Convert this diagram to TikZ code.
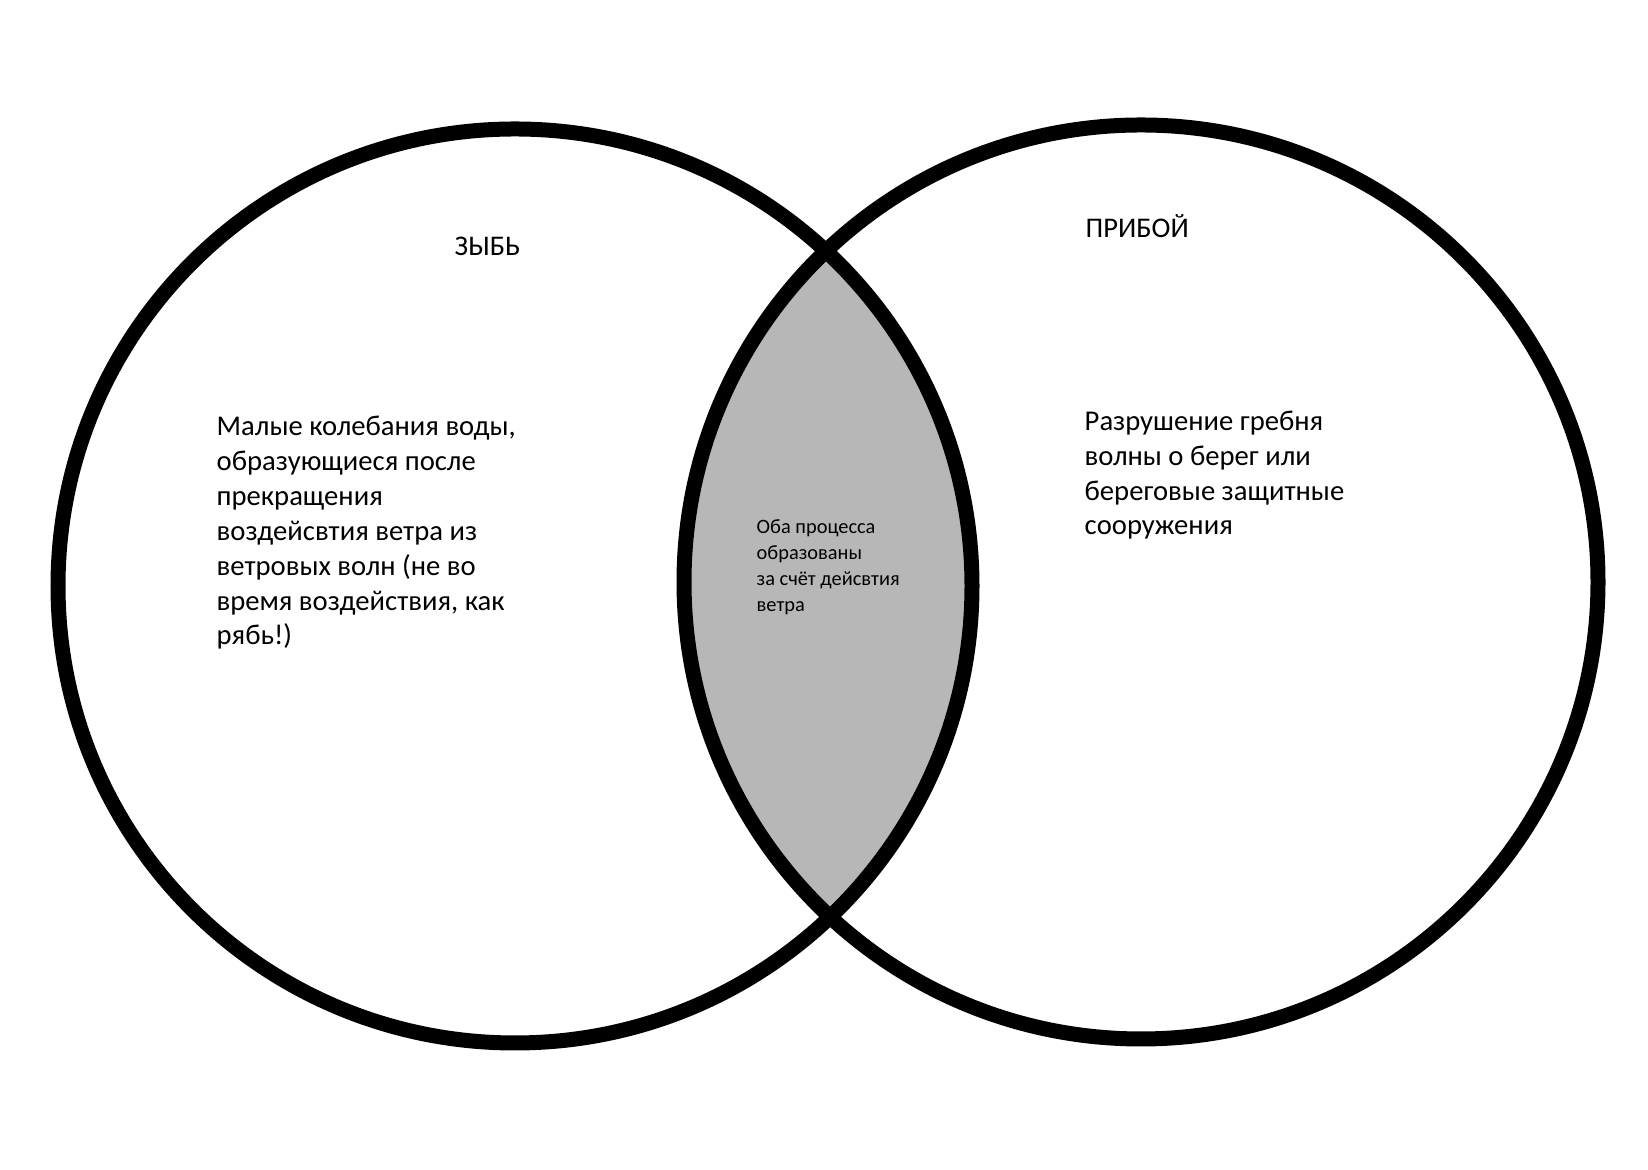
\documentclass[tikz,border=0pt]{standalone}
\usepackage{fontspec}
\setmainfont{Carlito}
\definecolor{lensgray}{RGB}{183,183,183}
\tikzset{
  ring/.style={line width=.15cm},
  heading/.style={anchor=base west,inner sep=0pt,font=\fontsize{8.1}{9.8}\selectfont},
  body/.style={anchor=base west,inner sep=0pt,align=left,font=\fontsize{8.15}{9.95}\selectfont},
  small/.style={anchor=base west,inner sep=0pt,align=left,font=\fontsize{5.8}{7.42}\selectfont}
}
\begin{document}
\begin{tikzpicture}
    \def\radius{4.57}
    \useasboundingbox (0,0) rectangle (16.48,11.70);
    \coordinate (zyb) at (5.15,5.84);
    \coordinate (priboy) at (11.41,5.88);
    % common part of both circles
    \begin{scope}
      \clip (zyb) circle (\radius);
      \fill[lensgray] (priboy) circle (\radius);
    \end{scope}
    \draw[ring] (zyb) circle (\radius);
    \draw[ring] (priboy) circle (\radius);
    \node[heading] (zybtitle) at (4.54,9.14) {ЗЫБЬ};
    \node[heading] (priboytitle) at (10.85,9.32) {ПРИБОЙ};
    % anchors sit on the last line
    \node[body] (zybtext) at (2.16,5.25) {Малые колебания воды,\\образующиеся после\\прекращения\\воздейсвтия ветра из\\ветровых волн (не во\\время воздействия, как\\рябь!)};
    \node[body] (priboytext) at (10.84,6.35) {Разрушение гребня\\волны о берег или\\береговые защитные\\сооружения};
    \node[small] (both) at (7.56,5.58) {Оба процесса\\образованы\\за счёт дейсвтия\\ветра};
\end{tikzpicture}
\end{document}
